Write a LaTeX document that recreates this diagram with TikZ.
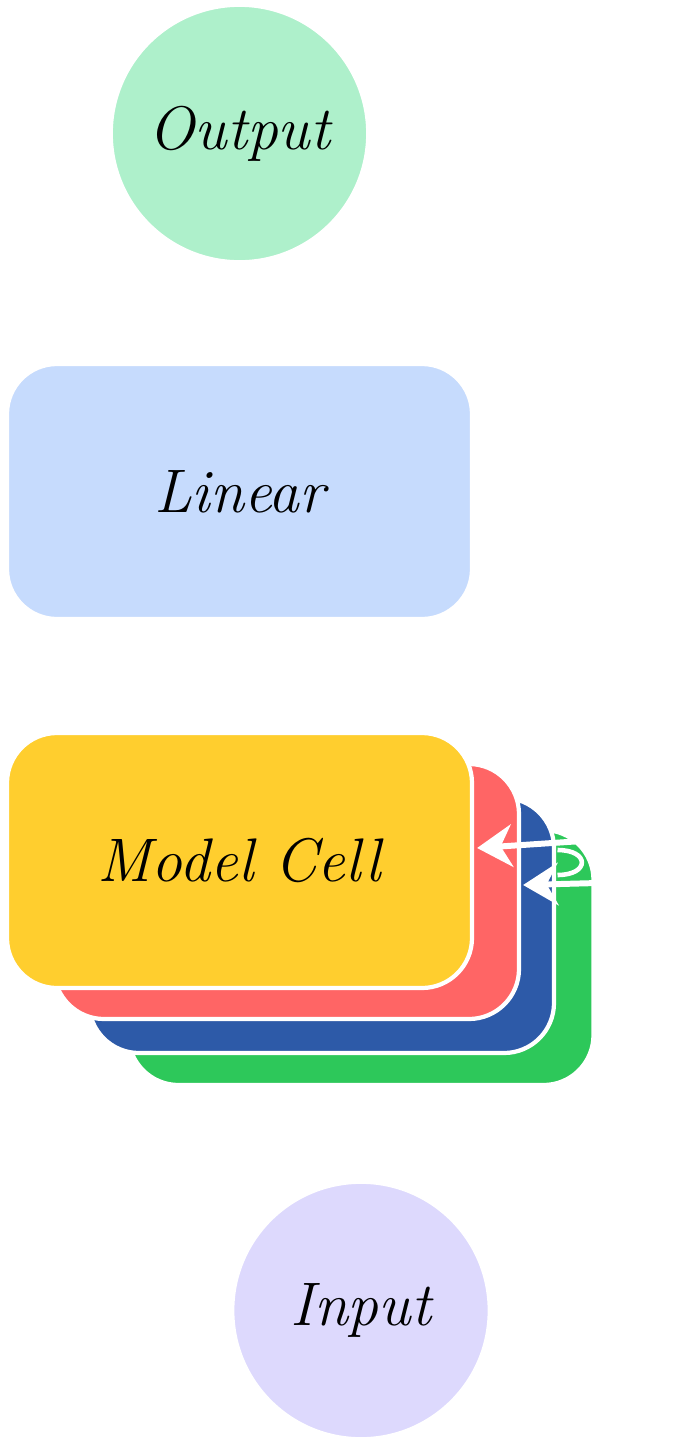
\documentclass[tikz,border=0pt]{standalone}
\usetikzlibrary{arrows.meta, positioning, calc}
\definecolor{cmint}{HTML}{AEF0CB}
\definecolor{csky}{HTML}{C6DBFD}
\definecolor{cyellow}{HTML}{FFCE2E}
\definecolor{cred}{HTML}{FF6565}
\definecolor{cblue}{HTML}{2D5AA8}
\definecolor{cgreen}{HTML}{2DC85A}
\definecolor{clilac}{HTML}{DDD9FD}
\tikzset{
  every picture/.style={font=\itshape\fontsize{35}{40}\selectfont},
  blob/.style={circle, fill=#1, draw=white, line width=1pt, minimum size=5.1cm, inner sep=0pt},
  card/.style={fill=#1, draw=white, line width=2.4pt, rounded corners=1cm, minimum width=9.3cm, minimum height=5.1cm},
  card/.default=cyellow,
  backarrow/.style={-{Stealth[length=7mm, width=8.5mm]}, draw=white, line width=3.4pt},
}

\begin{document}
\begin{tikzpicture}
  \useasboundingbox (0,0) rectangle (13.76,-28.84);
  \node[card=csky] (linear) at (4.79,-9.83) {Linear};
  \node[blob=cmint, above=2.0cm of linear] (out) {Output};
  % stacked cells, back to front
  \coordinate (mc) at (4.79,-17.21);
  \node[card=cgreen] (cellC) at ($(mc)+(2.43,-1.94)$) {};
  \node[card=cblue] (cellB) at ($(mc)+(1.64,-1.30)$) {};
  \node[card=cred] (cellA) at ($(mc)+(0.94,-0.62)$) {};
  \node[card] (cell) at (mc) {Model Cell};
  % recurrent arrows (cut at the right)
  \coordinate (rA) at (11.95,-16.80);
  \coordinate (rB) at (11.95,-17.66);
  \draw[backarrow] (rA) -- ($(cell.east)+(0.06,0.25)$);
  \draw[backarrow] (rB) -- ($(cellA.east)+(0.04,0.13)$);
  \draw[white, line width=2.6pt] (11.15,-17.0) .. controls (11.8,-17.0) and (11.8,-17.5) .. (11.15,-17.5);
  \node[blob=clilac, below=1.9cm of cellC] (in) {Input};
\end{tikzpicture}
\end{document}
